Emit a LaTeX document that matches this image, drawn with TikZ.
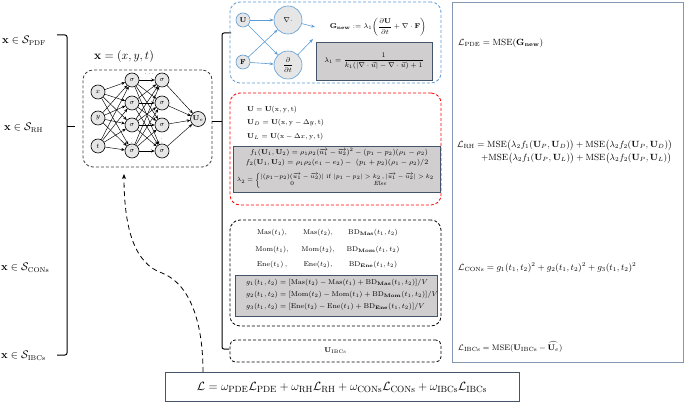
\documentclass[tikz,border=0pt]{standalone}
\usepackage{amsmath,amssymb}
\usetikzlibrary{arrows.meta}
\definecolor{bluebox}{HTML}{5B9BD5}
\definecolor{nodegray}{HTML}{E7E6E6}
\definecolor{boxgray}{HTML}{D0CECE}
\definecolor{slate}{HTML}{44546A}
\definecolor{rightbd}{HTML}{8497B0}
\begin{document}
\begin{tikzpicture}[x=1pt,y=-1pt,
  >={Stealth[length=3.5pt,width=3pt]},
  lbl/.style={font=\fontsize{10.5}{12}\selectfont, inner sep=0, anchor=west},
  nnode/.style={circle, draw, fill=nodegray, minimum size=14pt, inner sep=0, font=\fontsize{7.5}{8}\selectfont, line width=0.6pt},
  nnedge/.style={->, line width=0.45pt},
  bnode/.style={circle, draw=bluebox, fill=nodegray, inner sep=0, font=\fontsize{7}{8}\selectfont, line width=0.6pt},
  bedge/.style={->, draw=bluebox, line width=0.6pt, >={Stealth[length=4pt,width=3pt]}},
  dbox/.style={draw, densely dashed, rounded corners=10pt, line width=0.8pt, inner sep=0},
  graybox/.style={draw=slate, fill=boxgray, line width=0.8pt, inner sep=0},
  eq/.style={font=\fontsize{7}{8.5}\selectfont, inner sep=0},
  req/.style={font=\fontsize{8.9}{10}\selectfont, inner sep=0, anchor=west},
  brk/.style={line width=1pt, rounded corners=2pt}
]
\useasboundingbox (0,0) rectangle (685,403);

% ---- left labels ----
\node[lbl] (sPDF) at (2,41) {$\mathbf{x}\in\mathcal{S}_{\mathrm{PDF}}$};
\node[lbl] (sRH) at (4,128) {$\mathbf{x}\in\mathcal{S}_{\mathrm{RH}}$};
\node[lbl] (sCON) at (1,268) {$\mathbf{x}\in\mathcal{S}_{\mathrm{CONs}}$};
\node[lbl] (sIBC) at (1,356) {$\mathbf{x}\in\mathcal{S}_{\mathrm{IBCs}}$};

% left bracket
\draw[brk] (57,35) -- (67,35) -- (67,355) -- (57,355);
\draw[line width=1pt] (67,127) -- (75,127);

% ---- neural network ----
\node[font=\fontsize{11.5}{13}\selectfont, inner sep=0] (nntitle) at (124,57) {$\mathbf{x}=(x,y,t)$};
\node[dbox, draw=black!75, minimum width=129pt, minimum height=97pt] (nn) at (147.5,118.5) {};
\node[nnode] (i1) at (98,92) {$x$};
\node[nnode] (i2) at (98,118) {$y$};
\node[nnode] (i3) at (98,146) {$t$};
\foreach \n/\yy in {1/80,2/103,3/125,4/151}{
  \node[nnode] (h\n) at (132,\yy) {$\sigma$};
  \node[nnode] (k\n) at (162,\yy) {$\sigma$};
}
\node[nnode, minimum size=15pt] (out) at (198,119) {$\mathbf{U}_{e}$};
\foreach \a in {i1,i2,i3}{\foreach \b in {h1,h2,h3,h4}{\draw[nnedge] (\a) -- (\b);}}
\foreach \a in {h1,h2,h3,h4}{\foreach \b in {k1,k2,k3,k4}{\draw[nnedge] (\a) -- (\b);}}
\foreach \a in {k1,k2,k3,k4}{\draw[nnedge] (\a) -- (out);}
\node[font=\fontsize{6}{6}\selectfont, inner sep=0] (topdots) at (150,74) {$\cdots$};
\node[font=\fontsize{5}{5}\selectfont, inner sep=0] (vd1) at (132,140) {$\vdots$};
\node[font=\fontsize{5}{5}\selectfont, inner sep=0] (vd2) at (162,140) {$\vdots$};

% right bracket
\draw[brk] (231,33) -- (222,33) -- (222,349) -- (229,349);
\draw[line width=1pt] (222,122) -- (212,122);

% ---- PDE (blue) box ----
\node[dbox, draw=bluebox, minimum width=211pt, minimum height=81pt] (pde) at (335.5,42.5) {};
\node[bnode, minimum size=14pt] (U) at (243,20) {$\mathbf{U}$};
\node[bnode, minimum size=14pt] (F) at (243,62) {$\mathbf{F}$};
\node[bnode, minimum size=28pt] (div) at (288,20) {$\nabla\cdot$};
\node[bnode, minimum size=28pt] (ddt) at (288,65) {$\dfrac{\partial}{\partial t}$};
\coordinate (g1) at (315,27);
\coordinate (g2) at (313,39);
\draw[bedge] (U) -- (div);
\draw[bedge] (U) -- (ddt);
\draw[bedge] (F) -- (div);
\draw[bedge] (F) -- (ddt);
\draw[bedge] (div) -- (g1);
\draw[bedge] (ddt) -- (g2);
\node[eq, font=\fontsize{7.5}{9}\selectfont] (gnew) at (378,27) {$\mathbf{G}_{\mathbf{new}}\mathrel{:=}\lambda_1\!\left(\dfrac{\partial\mathbf{U}}{\partial t}+\nabla\cdot\mathbf{F}\right)$};
\node[graybox, minimum width=116pt, minimum height=38pt] (lam1box) at (374,61) {};
\node[eq, font=\fontsize{7.5}{9}\selectfont] (lam1) at (374,61) {$\lambda_1=\dfrac{1}{k_1(|\nabla\cdot\vec{u}|-\nabla\cdot\vec{u})+1}$};

% ---- RH (red) box ----
\node[dbox, draw=red, minimum width=211pt, minimum height=112pt] (rh) at (335.5,149) {};
\node[eq, anchor=west] (rl1) at (247,109.5) {$\mathbf{U}=\mathbf{U}(\mathrm{x},\mathrm{y},\mathrm{t})$};
\node[eq, anchor=west] (rl2) at (247,123) {$\mathbf{U}_{D}=\mathbf{U}(\mathrm{x},\mathrm{y}-\Delta y,\mathrm{t})$};
\node[eq, anchor=west] (rl3) at (247,136.5) {$\mathbf{U}_{L}=\mathbf{U}(\mathrm{x}-\Delta x,\mathrm{y},\mathrm{t})$};
\node[graybox, minimum width=207pt, minimum height=46pt] (rhgray) at (336.5,169) {};
\node[eq, font=\fontsize{6.8}{8}\selectfont] (f1) at (339,152) {$f_1(\mathbf{U}_1,\mathbf{U}_2)=\rho_1\rho_2(\overrightarrow{u_1}-\overrightarrow{u_2})^2-(p_1-p_2)(\rho_1-\rho_2)$};
\node[eq, font=\fontsize{6.8}{8}\selectfont] (f2) at (337,162.5) {$f_2(\mathbf{U}_1,\mathbf{U}_2)=\rho_1\rho_2(e_1-e_2)-\ (p_1+p_2)(\rho_1-\rho_2)/2$};
\node[eq, font=\fontsize{6.3}{7}\selectfont] (lam2) at (336,180.5) {$\lambda_2=\left\{\begin{array}{@{}c@{\ }c@{}}|(p_1{-}p_2)(\overrightarrow{u_1}-\overrightarrow{u_2})| & \mathrm{if}\;|p_1-p_2|>k_2\,,|\overrightarrow{u_1}-\overrightarrow{u_2}|>k_2\\[0.5pt] 0 & \mathit{Else}\end{array}\right.$};

% ---- CONs box ----
\node[dbox, draw=black, minimum width=211pt, minimum height=106pt] (con) at (335.5,273) {};
\node[eq, font=\fontsize{7.5}{9}\selectfont] (m1) at (272,233) {$\mathrm{Mas}(t_1),$};
\node[eq, font=\fontsize{7.5}{9}\selectfont] (m2) at (318,233) {$\mathrm{Mas}(t_2),$};
\node[eq, font=\fontsize{7.5}{9}\selectfont] (m3) at (373,233) {$\mathrm{BD}_{\mathbf{Mas}}(t_1,t_2)$};
\node[eq, font=\fontsize{7.5}{9}\selectfont] (o1) at (272,250) {$\mathrm{Mom}(t_1),$};
\node[eq, font=\fontsize{7.5}{9}\selectfont] (o2) at (318,250) {$\mathrm{Mom}(t_2),$};
\node[eq, font=\fontsize{7.5}{9}\selectfont] (o3) at (373,250) {$\mathrm{BD}_{\mathbf{Mom}}(t_1,t_2)$};
\node[eq, font=\fontsize{7.5}{9}\selectfont] (e1) at (272,265) {$\mathrm{Ene}(t_1)\,,$};
\node[eq, font=\fontsize{7.5}{9}\selectfont] (e2) at (318,265) {$\mathrm{Ene}(t_2),$};
\node[eq, font=\fontsize{7.5}{9}\selectfont] (e3) at (373,265) {$\mathrm{BD}_{\mathbf{Ene}}(t_1,t_2)$};
\node[graybox, minimum width=202pt, minimum height=41pt] (congray) at (336,295.5) {};
\node[eq, anchor=west, font=\fontsize{6.8}{8}\selectfont] (g1t) at (246,283) {$g_1(t_1,t_2)=[\mathrm{Mas}(t_2)-\mathrm{Mas}(t_1)+\mathrm{BD}_{\mathbf{Mas}}(t_1,t_2)]/V$};
\node[eq, anchor=west, font=\fontsize{6.8}{8}\selectfont] (g2t) at (246,295) {$g_2(t_1,t_2)=[\mathrm{Mom}(t_2)-\mathrm{Mom}(t_1)+\mathrm{BD}_{\mathbf{Mom}}(t_1,t_2)]/V$};
\node[eq, anchor=west, font=\fontsize{6.8}{8}\selectfont] (g3t) at (246,307) {$g_3(t_1,t_2)=[\mathrm{Ene}(t_2)-\mathrm{Ene}(t_1)+\mathrm{BD}_{\mathbf{Ene}}(t_1,t_2)]/V$};

% ---- IBCs box ----
\node[dbox, draw=black, minimum width=211pt, minimum height=22pt, rounded corners=5pt] (ibc) at (335.5,351) {};
\node[eq, font=\fontsize{7.5}{9}\selectfont] (uibc) at (335.5,351) {$\mathbf{U}_{\mathrm{IBCs}}$};

% ---- right loss box ----
\node[draw=rightbd, line width=0.8pt, minimum width=231pt, minimum height=360pt, inner sep=0] (loss) at (567.5,182) {};
\node[req] (lpde) at (458,43) {$\mathcal{L}_{\mathrm{PDE}}=\mathrm{MSE}(\mathbf{G}_{\mathbf{new}})$};
\node[req] (lrh1) at (457,145) {$\mathcal{L}_{\mathrm{RH}}=\mathrm{MSE}\big(\lambda_2 f_1(\mathbf{U}_P,\mathbf{U}_D)\big)+\mathrm{MSE}\big(\lambda_2 f_2(\mathbf{U}_P,\mathbf{U}_D)\big)$};
\node[req] (lrh2) at (481,158) {$+\mathrm{MSE}\big(\lambda_2 f_1(\mathbf{U}_P,\mathbf{U}_L)\big)+\mathrm{MSE}\big(\lambda_2 f_2(\mathbf{U}_P,\mathbf{U}_L)\big)$};
\node[req] (lcon) at (458,268) {$\mathcal{L}_{\mathrm{CONs}}=g_1(t_1,t_2)^2+g_2(t_1,t_2)^2+g_3(t_1,t_2)^2$};
\node[req, font=\fontsize{8}{10}\selectfont] (libc) at (458,347) {$\mathcal{L}_{\mathrm{IBCs}}=\mathrm{MSE}(\mathbf{U}_{\mathrm{IBCs}}-\widehat{\mathbf{U}_{e}})$};

% ---- bottom total loss ----
\node[draw=slate, line width=0.9pt, minimum width=354pt, minimum height=29pt, inner sep=0] (total) at (342,386.5) {};
\node[inner sep=0, font=\fontsize{12.9}{14}\selectfont] (totaltxt) at (342,387) {$\mathcal{L}=\omega_{\mathrm{PDE}}\mathcal{L}_{\mathrm{PDE}}+\omega_{\mathrm{RH}}\mathcal{L}_{\mathrm{RH}}+\omega_{\mathrm{CONs}}\mathcal{L}_{\mathrm{CONs}}+\omega_{\mathrm{IBCs}}\mathcal{L}_{\mathrm{IBCs}}$};

% dashed feedback curve
\coordinate (cstart) at (203,372);
\coordinate (ctip) at (124,174);
\draw[dash pattern=on 5pt off 3.5pt, line width=0.8pt, -{Stealth[length=5pt,width=4pt]}]
  (cstart) .. controls (203,322) and (190,284) .. (162,273)
  .. controls (136,264) and (124,232) .. (ctip);
\end{tikzpicture}
\end{document}
